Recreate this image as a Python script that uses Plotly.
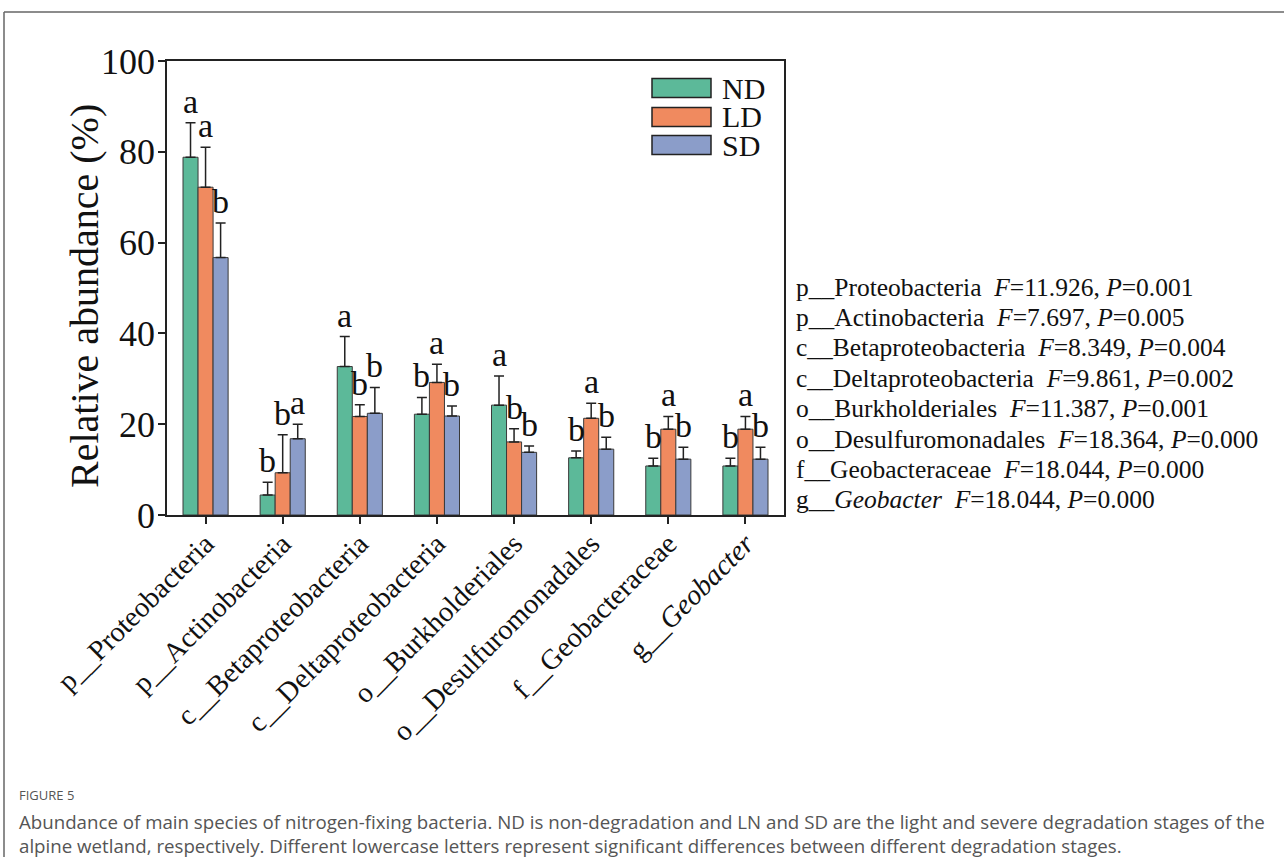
import plotly.graph_objects as go

# ---------------- data ----------------
categories = ["p__Proteobacteria", "p__Actinobacteria", "c__Betaproteobacteria",
              "c__Deltaproteobacteria", "o__Burkholderiales", "o__Desulfuromonadales",
              "f__Geobacteraceae", "g__Geobacter"]
tick_labels = ["p__Proteobacteria", "p__Actinobacteria", "c__Betaproteobacteria",
               "c__Deltaproteobacteria", "o__Burkholderiales", "o__Desulfuromonadales",
               "f__Geobacteraceae", "g__<i>Geobacter</i>"]
series_names = ["ND", "LD", "SD"]

nd_values = [78.8, 4.4, 32.7, 22.2, 24.2, 12.6, 10.8, 10.8]
nd_errors = [7.6, 2.8, 6.6, 3.7, 6.4, 1.5, 1.7, 1.7]
nd_letters = ["a", "b", "a", "b", "a", "b", "b", "b"]

ld_values = [72.2, 9.3, 21.7, 29.2, 16.1, 21.3, 18.9, 18.9]
ld_errors = [8.8, 8.4, 2.6, 4.0, 2.9, 3.3, 2.8, 2.8]
ld_letters = ["a", "b", "b", "a", "b", "a", "a", "a"]

sd_values = [56.7, 16.8, 22.4, 21.8, 13.8, 14.5, 12.3, 12.3]
sd_errors = [7.6, 3.2, 5.7, 2.2, 1.4, 2.6, 2.6, 2.6]
sd_letters = ["b", "a", "b", "b", "b", "b", "b", "b"]

stat_names = ["p__Proteobacteria", "p__Actinobacteria", "c__Betaproteobacteria",
              "c__Deltaproteobacteria", "o__Burkholderiales", "o__Desulfuromonadales",
              "f__Geobacteraceae", "g__<i>Geobacter</i>"]
f_values = ["11.926", "7.697", "8.349", "9.861", "11.387", "18.364", "18.044", "18.044"]
p_values = ["0.001", "0.005", "0.004", "0.002", "0.001", "0.000", "0.000", "0.000"]

y_ticks = [0, 20, 40, 60, 80, 100]

caption_head = "FIGURE 5"
caption_lines = [
    "Abundance of main species of nitrogen-fixing bacteria. ND is non-degradation and LN and SD are the light and severe degradation stages of the",
    "alpine wetland, respectively. Different lowercase letters represent significant differences between different degradation stages.",
]

# ---------------- style / layout ----------------
colors = ["#5cb999", "#f08a5f", "#8b9dc9"]
SERIF = "Liberation Serif, Times New Roman, serif"
W, H = 1284, 857
L, R, T, B = 167, 784, 61, 515   # plot area in pixels
BARGAP = 0.415
BAR_W = (1 - BARGAP) / 3


def px_x(x):
    return (x - L) / (R - L)


def px_y(y):
    return (B - y) / (B - T)


values = [nd_values, ld_values, sd_values]
errors = [nd_errors, ld_errors, sd_errors]
letters = [nd_letters, ld_letters, sd_letters]
xs = list(range(len(categories)))

fig = go.Figure()
for k in range(3):
    fig.add_trace(go.Bar(
        x=xs, y=values[k], name=series_names[k],
        marker=dict(color=colors[k], line=dict(color="#3a3a3a", width=1)),
        error_y=dict(type="data", symmetric=False, array=errors[k],
                     arrayminus=[0] * len(xs), color="#222", thickness=1.5, width=5),
        showlegend=False,
    ))

annotations = []
# significance letters
for k in range(3):
    for i in xs:
        annotations.append(dict(
            x=i + (k - 1) * BAR_W, y=values[k][i] + errors[k][i],
            xref="x", yref="y", text=letters[k][i], showarrow=False,
            xanchor="center", yanchor="bottom", yshift=1,
            font=dict(family=SERIF, size=34, color="#111"),
        ))

# statistics text on the right
for i in range(len(stat_names)):
    annotations.append(dict(
        x=px_x(794), y=px_y(287 + i * 30.4), xref="paper", yref="paper",
        text=f"{stat_names[i]}\u00a0\u00a0<i>F</i>={f_values[i]}, <i>P</i>={p_values[i]}",
        showarrow=False, xanchor="left", yanchor="middle",
        font=dict(family=SERIF, size=25.5, color="#111"),
    ))

# custom legend
shapes = []
legend_rows = [88, 117, 145]
for k in range(3):
    yc = legend_rows[k]
    shapes.append(dict(type="rect", xref="paper", yref="paper",
                       x0=px_x(652), x1=px_x(711), y0=px_y(yc - 9.5), y1=px_y(yc + 9.5),
                       fillcolor=colors[k], line=dict(color="#222", width=1.5)))
    annotations.append(dict(x=px_x(720), y=px_y(yc), xref="paper", yref="paper",
                            text=series_names[k], showarrow=False, xanchor="left",
                            yanchor="middle", font=dict(family=SERIF, size=30, color="#111")))

# frame lines of the figure panel
shapes.append(dict(type="line", xref="paper", yref="paper", x0=px_x(4), x1=px_x(W + 5),
                   y0=px_y(12), y1=px_y(12), line=dict(color="#666", width=1.5)))
shapes.append(dict(type="line", xref="paper", yref="paper", x0=px_x(4), x1=px_x(4),
                   y0=px_y(12), y1=px_y(H + 5), line=dict(color="#666", width=1.5)))

# y-axis title
annotations.append(dict(x=px_x(84), y=px_y(296), xref="paper", yref="paper",
                        text="Relative abundance (%)", textangle=-90, showarrow=False,
                        xanchor="center", yanchor="middle",
                        font=dict(family=SERIF, size=40, color="#111")))

# caption
annotations.append(dict(x=px_x(17), y=px_y(795), xref="paper", yref="paper",
                        text=caption_head, showarrow=False, xanchor="left", yanchor="middle",
                        font=dict(family="Open Sans", size=13, color="#555")))
for j, line in enumerate(caption_lines):
    annotations.append(dict(x=px_x(17), y=px_y(821 + j * 24.5), xref="paper", yref="paper",
                            text=line, showarrow=False, xanchor="left", yanchor="middle",
                            font=dict(family="Open Sans", size=18.7, color="#555")))

fig.update_layout(
    width=W, height=H,
    margin=dict(l=L, r=W - R, t=T, b=H - B, pad=0),
    paper_bgcolor="white", plot_bgcolor="white",
    barmode="group", bargap=BARGAP, bargroupgap=0,
    annotations=annotations, shapes=shapes,
    xaxis=dict(
        range=[-0.5, len(categories) - 0.5], tickmode="array", tickvals=xs,
        ticktext=tick_labels, tickangle=-45, ticks="outside", ticklen=7, tickwidth=1.5,
        tickcolor="#222", showline=True, linecolor="#222", linewidth=1.5, mirror=True,
        showgrid=False, zeroline=False, ticklabelstandoff=-8,
        tickfont=dict(family=SERIF, size=28.5, color="#111"),
    ),
    yaxis=dict(
        range=[0, 100], tickmode="array", tickvals=y_ticks, ticks="outside", ticklen=7,
        tickwidth=1.5, tickcolor="#222", showline=True, linecolor="#222", linewidth=1.5,
        mirror=True, showgrid=False, zeroline=False, ticklabelstandoff=-4,
        tickfont=dict(family=SERIF, size=36, color="#111"),
    ),
)

fig.write_html("out.html", config={"displayModeBar": False},
               post_script="document.body.style.margin='0';document.body.style.overflow='hidden';")
